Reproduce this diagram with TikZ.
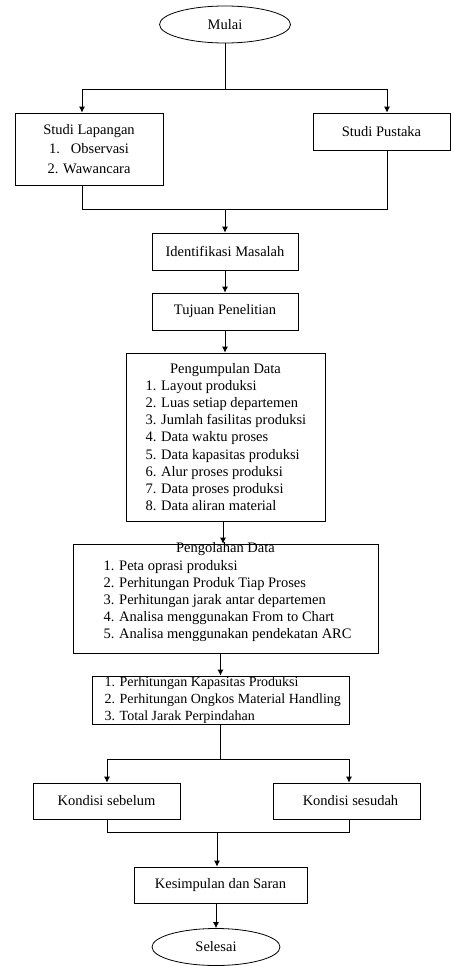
\documentclass[tikz,border=0pt]{standalone}
\usepackage{fontspec}
\setmainfont{Liberation Serif}
\usetikzlibrary{shapes.geometric,arrows.meta}

\tikzset{
	kotak/.style={draw, line width=.8pt, inner sep=0pt, align=center, font=\fontsize{14.5}{17.2}\selectfont},
	teks/.style={inner sep=0pt, align=center, font=\fontsize{14.5}{17.2}\selectfont},
	oval/.style={draw, ellipse, line width=.8pt, inner sep=0pt, font=\fontsize{14.5}{17.2}\selectfont},
	garis/.style={line width=.8pt},
	panah/.style={line width=.8pt, -{Latex[length=6pt,width=6pt]}}
}

\begin{document}
\begin{tikzpicture}[x=1pt,y=-1pt]
		\def\baris#1#2{\makebox[#1][l]{#2}}
		\useasboundingbox (0,0) rectangle (452,966);

		\node[oval, minimum width=131, minimum height=37] (mulai) at (225,24.5) {Mulai};
		\node[kotak, minimum width=148, minimum height=72] (lapangan) at (89,149)
			{Studi Lapangan\\[2pt]1.\hspace{11pt}Observasi\\[2pt]2. Wawancara};
		\node[kotak, minimum width=137, minimum height=37] (pustaka) at (381.5,131.5) {Studi Pustaka};
		\node[kotak, minimum width=146, minimum height=37] (identifikasi) at (225,251.5) {Identifikasi Masalah};
		\node[kotak, minimum width=146, minimum height=37] (tujuan) at (225,311.5) {Tujuan Penelitian};
		\node[kotak, minimum width=199, minimum height=168] (pengumpulan) at (225.5,437)
			{Pengumpulan Data\\
			\baris{160pt}{1. Layout produksi}\\
			\baris{160pt}{2. Luas setiap departemen}\\
			\baris{160pt}{3. Jumlah fasilitas produksi}\\
			\baris{160pt}{4. Data waktu proses}\\
			\baris{160pt}{5. Data kapasitas produksi}\\
			\baris{160pt}{6. Alur proses produksi}\\
			\baris{160pt}{7. Data proses produksi}\\
			\baris{160pt}{8. Data aliran material}};
		\node[kotak, minimum width=305, minimum height=109] (pengolahan) at (225.5,598.5) {};
		\node[teks] (pengolahanteks) at ([yshift=6pt]pengolahan.center)
			{Pengolahan Data\\
			\baris{244pt}{1. Peta oprasi produksi}\\
			\baris{244pt}{2. Perhitungan Produk Tiap Proses}\\
			\baris{244pt}{3. Perhitungan jarak antar departemen}\\
			\baris{244pt}{4. Analisa menggunakan From to Chart}\\
			\baris{244pt}{5. Analisa menggunakan pendekatan ARC}};
		\node[kotak, minimum width=257, minimum height=48, font=\fontsize{14}{17}\selectfont] (hitung) at (220.5,700)
			{\baris{232pt}{1. Perhitungan Kapasitas Produksi}\\
			\baris{232pt}{2. Perhitungan Ongkos Material Handling}\\
			\baris{232pt}{3. Total Jarak Perpindahan}};
		\node[kotak, minimum width=147, minimum height=36] (sebelum) at (106.5,801) {Kondisi sebelum};
		\node[kotak, minimum width=147, minimum height=36] (sesudah) at (346.5,801) {\hspace{8pt}Kondisi sesudah};
		\node[kotak, minimum width=173, minimum height=36] (kesimpulan) at (220.5,885) {Kesimpulan dan Saran};
		\node[oval, minimum width=128, minimum height=37] (selesai) at (216,947) {Selesai};

		% percabangan atas
		\coordinate (c1) at (225,89);
		\coordinate (c1l) at (82,89);
		\coordinate (c1r) at (387,89);
		\draw[garis] (mulai) -- (c1);
		\draw[garis] (c1l) -- (c1r);
		\draw[panah] (c1l) -- (c1l |- lapangan.north);
		\draw[panah] (c1r) -- (c1r |- pustaka.north);

		\coordinate (c2) at (225,209);
		\coordinate (c2l) at (82,209);
		\coordinate (c2r) at (387,209);
		\draw[garis] (c2l |- lapangan.south) -- (c2l) -- (c2r) -- (c2r |- pustaka.south);
		\draw[panah] (c2) -- (identifikasi);
		\draw[panah] (identifikasi) -- (tujuan);
		\draw[panah] (tujuan.south) -- (tujuan.south |- pengumpulan.north);
		\draw[panah] (pengumpulan.south -| 223,0) -- (pengolahan.north -| 223,0);
		\draw[panah] (hitung.north |- pengolahan.south) -- (hitung.north);

		% percabangan bawah
		\coordinate (c3) at (220.5,759);
		\coordinate (c3l) at (107,759);
		\coordinate (c3r) at (349,759);
		\draw[garis] (hitung) -- (c3);
		\draw[garis] (c3l) -- (c3r);
		\draw[panah] (c3l) -- (c3l |- sebelum.north);
		\draw[panah] (c3r) -- (c3r |- sesudah.north);

		\coordinate (c4) at (217,832);
		\coordinate (c4l) at (107,832);
		\coordinate (c4r) at (349,832);
		\draw[garis] (c4l |- sebelum.south) -- (c4l) -- (c4r) -- (c4r |- sesudah.south);
		\draw[panah] (c4) -- (c4 |- kesimpulan.north);
		\draw[panah] (selesai.north |- kesimpulan.south) -- (selesai.north);
	\end{tikzpicture}
\end{document}
